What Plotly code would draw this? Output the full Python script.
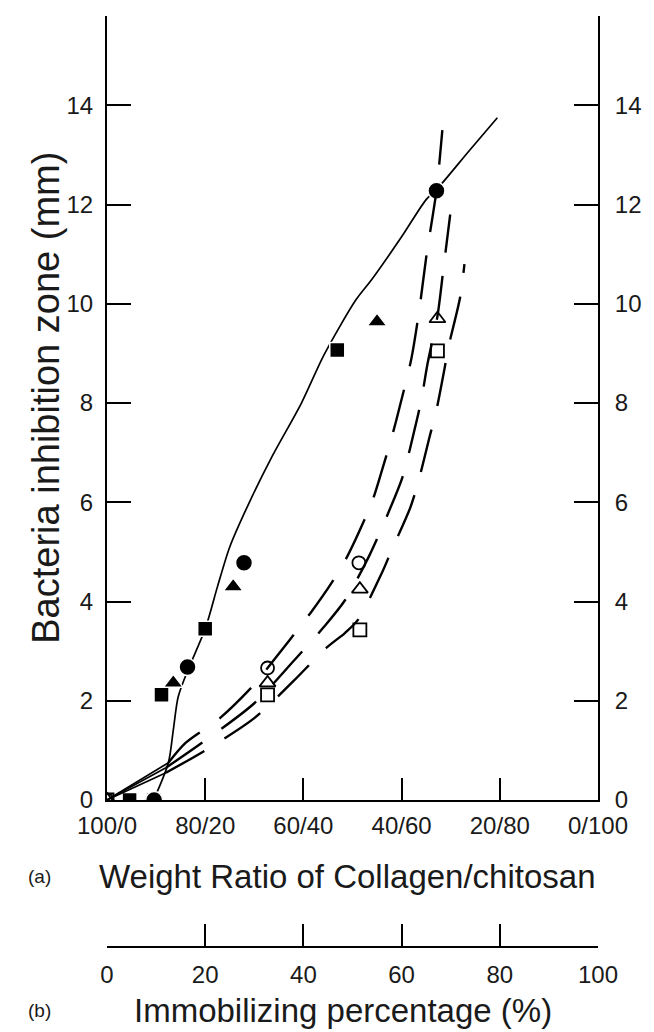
import plotly.graph_objects as go

# ---------------- data ----------------
# x: chitosan share of the collagen/chitosan blend (top axis, a)
#    and immobilizing percentage (bottom axis, b) share the same 0-100 scale
ratio_ticks = [0, 20, 40, 60, 80, 100]
ratio_labels = ["100/0", "80/20", "60/40", "40/60", "20/80", "0/100"]
imm_ticks = [0, 20, 40, 60, 80, 100]
imm_labels = ["0", "20", "40", "60", "80", "100"]
y_ticks = [0, 2, 4, 6, 8, 10, 12, 14]

# filled symbols (weight ratio, a)
sq_f_x = [4.6, 9.5, 11.1, 20.0, 46.9]
sq_f_y = [0.0, 0.0, 2.12, 3.45, 9.07]
tri_f_x = [8.8, 13.5, 25.7, 55.0]
tri_f_y = [0.0, 2.36, 4.3, 9.64]
cir_f_x = [9.6, 16.4, 27.9, 67.1]
cir_f_y = [0.0, 2.68, 4.78, 12.28]

# open symbols (immobilizing percentage, b)
cir_o_x = [0.0, 32.7, 51.3]
cir_o_y = [0.0, 2.66, 4.78]
tri_o_x = [0.0, 32.7, 51.5, 67.3]
tri_o_y = [0.0, 2.36, 4.25, 9.7]
sq_o_x = [0.0, 32.7, 51.5, 67.3]
sq_o_y = [0.0, 2.12, 3.43, 9.05]

# solid fitted curve (filled symbols)
solid_x = [9.5, 12.5, 13.5, 14.5, 16.4, 20.0, 22.5, 25.0, 28.9, 33.6, 39.6, 44.2, 50.7, 54.0, 60.0, 65.0, 67.1, 73.9, 79.5]
solid_y = [0.0, 0.75, 1.41, 2.08, 2.6, 3.45, 4.3, 5.1, 5.98, 6.92, 8.0, 8.97, 10.08, 10.5, 11.35, 12.1, 12.3, 13.1, 13.75]

# dashed fitted curves (open symbols)
dash_a_x = [0.0, 12.5, 16.0, 23.0, 30.3, 32.7, 41.6, 45.9, 49.1, 53.9, 55.6, 58.4, 59.6, 62.0, 63.6, 65.1, 67.1, 68.3]
dash_a_y = [0.0, 0.75, 1.15, 1.65, 2.36, 2.66, 3.79, 4.4, 4.94, 5.99, 6.51, 7.46, 7.92, 8.9, 9.88, 11.0, 12.28, 13.5]
dash_b_x = [0.0, 12.0, 20.0, 30.0, 38.0, 44.2, 48.5, 53.5, 58.4, 60.2, 63.2, 64.0, 65.3, 67.3, 68.5, 69.9]
dash_b_y = [0.0, 0.65, 1.2, 1.95, 2.8, 3.49, 4.03, 4.94, 6.05, 6.51, 7.7, 8.05, 8.8, 9.75, 10.69, 11.8]
dash_c_x = [0.0, 12.0, 20.0, 30.0, 38.0, 44.6, 48.5, 51.1, 56.0, 58.0, 61.8, 63.4, 65.7, 67.1, 68.7, 69.5, 71.9, 72.8]
dash_c_y = [0.0, 0.55, 1.0, 1.65, 2.4, 3.06, 3.37, 3.63, 4.58, 5.04, 5.9, 6.41, 7.32, 7.86, 8.67, 9.11, 10.12, 10.8]

# ---------------- figure ----------------
FONT = "Liberation Sans, Arial, Helvetica, sans-serif"
TXT = "#1a1a1a"
W, H = 654, 1032
L, R, T, B = 107, 42, 16, 85
plot_w = W - L - R
plot_h = H - T - B
main_bottom_px = 800
y_dom0 = (H - B - main_bottom_px) / plot_h

def px_x(px):
    return (px - L) / plot_w

def px_y(py):
    return (H - B - py) / plot_h

fig = go.Figure()

dash_pat = "44px,24px"
for xs, ys in [(dash_a_x, dash_a_y), (dash_b_x, dash_b_y), (dash_c_x, dash_c_y)]:
    # first stretch from the origin is drawn as one continuous stroke
    fig.add_trace(go.Scatter(x=xs[:2], y=ys[:2], xaxis="x2", yaxis="y", mode="lines",
                             line=dict(color="black", width=1.6),
                             hoverinfo="skip", showlegend=False))
    fig.add_trace(go.Scatter(x=xs[1:], y=ys[1:], xaxis="x2", yaxis="y", mode="lines",
                             line=dict(color="black", width=2.4, dash=dash_pat, shape="spline", smoothing=0.8),
                             hoverinfo="skip", showlegend=False))

fig.add_trace(go.Scatter(x=solid_x, y=solid_y, mode="lines",
                         line=dict(color="black", width=1.7, shape="spline", smoothing=0.8),
                         hoverinfo="skip", showlegend=False))

# open markers (b)
for xs, ys, sym, sz in [(cir_o_x, cir_o_y, "circle-open", 13), (tri_o_x, tri_o_y, "triangle-up-open", 14),
                        (sq_o_x, sq_o_y, "square-open", 13)]:
    fig.add_trace(go.Scatter(x=xs, y=ys, xaxis="x2", yaxis="y", mode="markers",
                             marker=dict(symbol=sym, size=sz, color="black", line=dict(width=1.8, color="black")),
                             showlegend=False))

# filled markers (a)
for xs, ys, sym, sz in [(sq_f_x, sq_f_y, "square", 15), (tri_f_x, tri_f_y, "triangle-up", 17),
                        (cir_f_x, cir_f_y, "circle", 17)]:
    fig.add_trace(go.Scatter(x=xs, y=ys, mode="markers",
                             marker=dict(symbol=sym, size=sz, color="black", line=dict(width=1.5, color="white")),
                             showlegend=False))

# trace to carry the right-hand axis
fig.add_trace(go.Scatter(x=solid_x, y=solid_y, yaxis="y2", mode="lines",
                         line=dict(width=0, color="rgba(0,0,0,0)"), hoverinfo="skip", showlegend=False))

axis_common = dict(showgrid=False, zeroline=False, showline=True, linecolor="black", linewidth=2,
                   ticks="inside", tickcolor="black", tickwidth=2,
                   tickfont=dict(family=FONT, size=24, color=TXT))

fig.update_layout(
    width=W, height=H,
    margin=dict(l=L, r=R, t=T, b=B, pad=0),
    paper_bgcolor="white", plot_bgcolor="white",
    showlegend=False,
    font=dict(family=FONT, color=TXT),
    xaxis=dict(range=[0, 100], tickmode="array", tickvals=ratio_ticks, ticktext=ratio_labels,
               ticklen=22, anchor="y", ticklabelstandoff=3, **axis_common),
    xaxis2=dict(range=[0, 100], tickmode="array", tickvals=imm_ticks, ticktext=imm_labels,
                overlaying="x", anchor="free", position=0, side="bottom",
                ticklen=22, ticklabelstandoff=6, **axis_common),
    yaxis=dict(range=[0, 15.8], domain=[y_dom0, 1], tickmode="array", tickvals=y_ticks,
               ticklen=24, ticklabelstandoff=7, anchor="x", **axis_common),
    yaxis2=dict(range=[0, 15.8], overlaying="y", side="right", anchor="x", tickmode="array",
                tickvals=y_ticks, ticklen=24, ticklabelstandoff=10, **axis_common),
    annotations=[
        dict(text="Bacteria inhibition zone (mm)", textangle=-90, xref="paper", yref="paper",
             x=px_x(44), y=px_y(398), showarrow=False, font=dict(family=FONT, size=38, color=TXT),
             xanchor="center", yanchor="middle"),
        dict(text="Weight Ratio of Collagen/chitosan", xref="paper", yref="paper",
             x=px_x(354), y=px_y(876), showarrow=False, font=dict(family=FONT, size=33, color=TXT),
             xanchor="center", yanchor="middle"),
        dict(text="(a)", xref="paper", yref="paper", x=px_x(38), y=px_y(876), showarrow=False,
             font=dict(family=FONT, size=19, color=TXT), xanchor="center", yanchor="middle"),
        dict(text="Immobilizing percentage (%)", xref="paper", yref="paper",
             x=px_x(350), y=px_y(1011), showarrow=False, font=dict(family=FONT, size=33, color=TXT),
             xanchor="center", yanchor="middle"),
        dict(text="(b)", xref="paper", yref="paper", x=px_x(38), y=px_y(1011), showarrow=False,
             font=dict(family=FONT, size=19, color=TXT), xanchor="center", yanchor="middle"),
    ],
)

fig.write_html("out.html")
